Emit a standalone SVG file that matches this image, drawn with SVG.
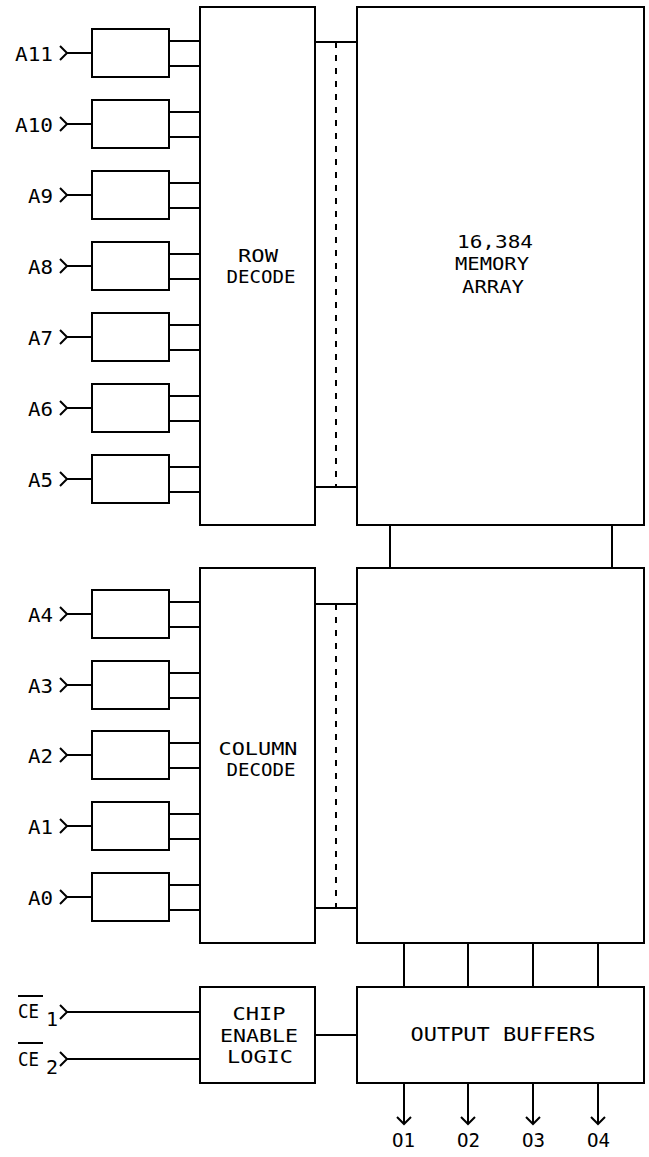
<svg xmlns="http://www.w3.org/2000/svg" width="649" height="1157" viewBox="0 0 649 1157">
<style>
.b{fill:#fff;stroke:#000;stroke-width:2}
.w{fill:none;stroke:#000;stroke-width:2}
.d{fill:none;stroke:#000;stroke-width:2;stroke-dasharray:6 7}
text{font-family:"DejaVu Sans Mono","Liberation Mono",monospace;font-size:20px;fill:#000}
.c{text-anchor:middle;font-size:18.5px}
</style>
<defs>
<g id="inbuf">
<path class="w" d="M60,-7 L67,0 L60,7 M67,0 H92 M169,-12 H200 M169,13 H200"/>
<rect class="b" x="92" y="-24" width="77" height="48"/>
</g>
</defs>
<rect width="649" height="1157" fill="#fff"/>
<g id="connectors">
<path class="w" d="M315,42 H357 M315,487 H357 M315,604 H357 M315,908 H357"/>
<path class="d" d="M336,42 V487 M336,604 V908"/>
<path class="w" d="M390,525 V568 M612,525 V568"/>
<path class="w" d="M404,943 V987 M468,943 V987 M533,943 V987 M598,943 V987"/>
<path class="w" d="M315,1035 H357 M67,1012 H200 M67,1059 H200"/>
<path class="w" d="M60,1005 L67,1012 L60,1019 M60,1052 L67,1059 L60,1066"/>
<path class="w" d="M404,1083 V1124 M397,1117 L404,1124 L411,1117 M468,1083 V1124 M461,1117 L468,1124 L475,1117 M533,1083 V1124 M526,1117 L533,1124 L540,1117 M598,1083 V1124 M591,1117 L598,1124 L605,1117"/>
</g>
<g id="in-A11"><use href="#inbuf" transform="translate(0,53)"/><text x="15" y="61" textLength="38" lengthAdjust="spacingAndGlyphs">A11</text></g>
<g id="in-A10"><use href="#inbuf" transform="translate(0,124)"/><text x="15" y="132" textLength="38" lengthAdjust="spacingAndGlyphs">A10</text></g>
<g id="in-A9"><use href="#inbuf" transform="translate(0,195)"/><text x="28" y="203" textLength="25" lengthAdjust="spacingAndGlyphs">A9</text></g>
<g id="in-A8"><use href="#inbuf" transform="translate(0,266)"/><text x="28" y="274" textLength="25" lengthAdjust="spacingAndGlyphs">A8</text></g>
<g id="in-A7"><use href="#inbuf" transform="translate(0,337)"/><text x="28" y="345" textLength="25" lengthAdjust="spacingAndGlyphs">A7</text></g>
<g id="in-A6"><use href="#inbuf" transform="translate(0,408)"/><text x="28" y="416" textLength="25" lengthAdjust="spacingAndGlyphs">A6</text></g>
<g id="in-A5"><use href="#inbuf" transform="translate(0,479)"/><text x="28" y="487" textLength="25" lengthAdjust="spacingAndGlyphs">A5</text></g>
<g id="in-A4"><use href="#inbuf" transform="translate(0,614)"/><text x="28" y="622" textLength="25" lengthAdjust="spacingAndGlyphs">A4</text></g>
<g id="in-A3"><use href="#inbuf" transform="translate(0,685)"/><text x="28" y="693" textLength="25" lengthAdjust="spacingAndGlyphs">A3</text></g>
<g id="in-A2"><use href="#inbuf" transform="translate(0,755)"/><text x="28" y="763" textLength="25" lengthAdjust="spacingAndGlyphs">A2</text></g>
<g id="in-A1"><use href="#inbuf" transform="translate(0,826)"/><text x="28" y="834" textLength="25" lengthAdjust="spacingAndGlyphs">A1</text></g>
<g id="in-A0"><use href="#inbuf" transform="translate(0,897)"/><text x="28" y="905" textLength="25" lengthAdjust="spacingAndGlyphs">A0</text></g>
<g id="row-decode">
<rect class="b" x="200" y="7" width="115" height="518"/>
<text class="c" x="258" y="262" textLength="40" lengthAdjust="spacingAndGlyphs">ROW</text>
<text class="c" x="261" y="283" textLength="69" lengthAdjust="spacingAndGlyphs">DECODE</text>
</g>
<g id="column-decode">
<rect class="b" x="200" y="568" width="115" height="375"/>
<text class="c" x="258" y="755" textLength="79" lengthAdjust="spacingAndGlyphs">COLUMN</text>
<text class="c" x="261" y="776" textLength="69" lengthAdjust="spacingAndGlyphs">DECODE</text>
</g>
<g id="memory-array">
<rect class="b" x="357" y="7" width="287" height="518"/>
<text class="c" x="495" y="248" textLength="76" lengthAdjust="spacingAndGlyphs">16,384</text>
<text class="c" x="492" y="270" textLength="74" lengthAdjust="spacingAndGlyphs">MEMORY</text>
<text class="c" x="493" y="293" textLength="62" lengthAdjust="spacingAndGlyphs">ARRAY</text>
</g>
<g id="memory-lower">
<rect class="b" x="357" y="568" width="287" height="375"/>
</g>
<g id="chip-enable">
<rect class="b" x="200" y="987" width="115" height="96"/>
<text class="c" x="259" y="1020" textLength="53" lengthAdjust="spacingAndGlyphs">CHIP</text>
<text class="c" x="259" y="1042" textLength="78" lengthAdjust="spacingAndGlyphs">ENABLE</text>
<text class="c" x="260" y="1063" textLength="66" lengthAdjust="spacingAndGlyphs">LOGIC</text>
</g>
<g id="output-buffers">
<rect class="b" x="357" y="987" width="287" height="96"/>
<text class="c" x="503" y="1041" font-size="20" style="font-size:20px" textLength="185" lengthAdjust="spacingAndGlyphs">OUTPUT BUFFERS</text>
</g>
<g id="ce1">
<line class="w" x1="18" y1="996" x2="43" y2="996"/>
<text x="18" y="1018" textLength="21" lengthAdjust="spacingAndGlyphs">CE</text>
<text x="46" y="1026" font-size="19">1</text>
</g>
<g id="ce2">
<line class="w" x1="18" y1="1043" x2="43" y2="1043"/>
<text x="18" y="1066" textLength="21" lengthAdjust="spacingAndGlyphs">CE</text>
<text x="46" y="1074" font-size="19">2</text>
</g>
<g id="outputs">
<text x="392" y="1147" textLength="23" lengthAdjust="spacingAndGlyphs">O1</text>
<text x="457" y="1147" textLength="23" lengthAdjust="spacingAndGlyphs">O2</text>
<text x="522" y="1147" textLength="23" lengthAdjust="spacingAndGlyphs">O3</text>
<text x="587" y="1147" textLength="23" lengthAdjust="spacingAndGlyphs">O4</text>
</g>
</svg>
